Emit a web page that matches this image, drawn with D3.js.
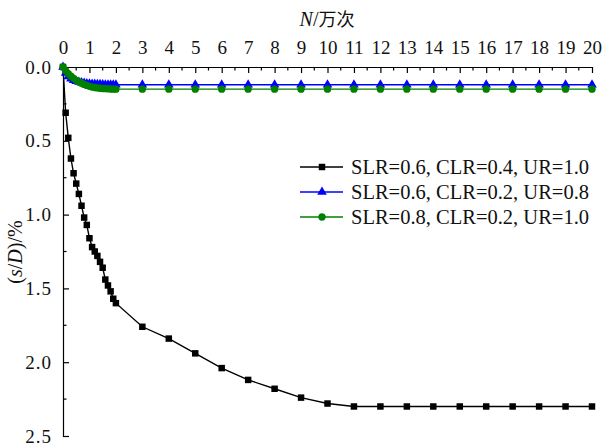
<!DOCTYPE html>
<html>
<head>
<meta charset="utf-8">
<script src="https://cdn.jsdelivr.net/npm/d3@7/dist/d3.min.js"></script>
<style>
  html, body { margin: 0; padding: 0; background: #fff; }
  svg { display: block; }
</style>
</head>
<body>
<svg id="chart" width="604" height="446"></svg>
<script>
// Cycle counts (×10^4): dense sampling up to 2, then one per unit
const cycles = [0, 0.1, 0.2, 0.3, 0.4, 0.5, 0.6, 0.7, 0.8, 0.9, 1.0,
  1.1, 1.2, 1.3, 1.4, 1.5, 1.6, 1.7, 1.8, 1.9, 2.0,
  3, 4, 5, 6, 7, 8, 9, 10, 11, 12, 13, 14, 15, 16, 17, 18, 19, 20];

// Normalised settlement s/D (%)
const settleA = [0, 0.31, 0.48, 0.62, 0.72, 0.79, 0.86, 0.94, 1.02, 1.07, 1.16,
  1.22, 1.25, 1.28, 1.32, 1.36, 1.44, 1.48, 1.52, 1.57, 1.60,
  1.76, 1.84, 1.94, 2.04, 2.12, 2.18, 2.24, 2.28, 2.30, 2.30, 2.30, 2.30, 2.30, 2.30, 2.30, 2.30, 2.30, 2.30];
const settleB = [0, 0.040, 0.065, 0.080, 0.090, 0.097, 0.102, 0.106, 0.109, 0.112, 0.114,
  0.115, 0.116, 0.117, 0.118, 0.119, 0.120, 0.120, 0.120, 0.120, 0.120,
  0.12, 0.12, 0.12, 0.12, 0.12, 0.12, 0.12, 0.12, 0.12, 0.12, 0.12, 0.12, 0.12, 0.12, 0.12, 0.12, 0.12, 0.12];
const settleC = [0, 0.025, 0.045, 0.062, 0.077, 0.090, 0.100, 0.110, 0.118, 0.125, 0.131,
  0.136, 0.139, 0.142, 0.144, 0.146, 0.147, 0.148, 0.149, 0.150, 0.150,
  0.15, 0.15, 0.15, 0.15, 0.15, 0.15, 0.15, 0.15, 0.15, 0.15, 0.15, 0.15, 0.15, 0.15, 0.15, 0.15, 0.15, 0.15];

const seriesNames = ["SLR=0.6, CLR=0.4, UR=1.0", "SLR=0.6, CLR=0.2, UR=0.8", "SLR=0.8, CLR=0.2, UR=1.0"];
const seriesColors = ["#000000", "#0000ff", "#008000"];
const seriesShapes = [d3.symbolSquare, d3.symbolTriangle, d3.symbolCircle];
const xTicks = d3.range(0, 21, 1);
const yTicks = [0, 0.5, 1.0, 1.5, 2.0, 2.5];

const serif = "'Liberation Serif', 'Times New Roman', serif";

const series = [settleA, settleB, settleC].map((vals, i) => ({
  name: seriesNames[i], color: seriesColors[i], shape: seriesShapes[i],
  points: cycles.map((c, j) => ({ x: c, y: vals[j] }))
}));

const svg = d3.select("#chart");
const plotLeft = 63, plotRight = 592, plotTop = 67, plotBottom = 436;
const x = d3.scaleLinear().domain([0, 20]).range([plotLeft, plotRight]);
const y = d3.scaleLinear().domain([0, 2.5]).range([plotTop, plotBottom]);

// Top axis with inward ticks
const xAxis = svg.append("g").attr("transform", `translate(0,${plotTop})`)
  .call(d3.axisTop(x).tickValues(xTicks).tickFormat(d3.format("d"))
    .tickSizeInner(-6).tickSizeOuter(0).tickPadding(13));
xAxis.select(".domain").attr("stroke", "#000").attr("stroke-width", 1.2);
xAxis.selectAll(".tick line").attr("stroke", "#000").attr("stroke-width", 1.2);
xAxis.selectAll(".tick text").style("font-family", serif).style("font-size", "19px").attr("fill", "#111");
svg.append("g").selectAll("line").data(d3.range(0.5, 20, 1)).join("line")
  .attr("x1", d => x(d)).attr("x2", d => x(d))
  .attr("y1", plotTop).attr("y2", plotTop + 3.5)
  .attr("stroke", "#000").attr("stroke-width", 1.2);

// Left axis with inward ticks
const yAxis = svg.append("g").attr("transform", `translate(${plotLeft},0)`)
  .call(d3.axisLeft(y).tickValues(yTicks).tickFormat(d3.format(".1f"))
    .tickSizeInner(-6).tickSizeOuter(0).tickPadding(11));
yAxis.select(".domain").attr("stroke", "#000").attr("stroke-width", 1.2);
yAxis.selectAll(".tick line").attr("stroke", "#000").attr("stroke-width", 1.2);
yAxis.selectAll(".tick text").style("font-family", serif).style("font-size", "19px")
  .style("letter-spacing", "1px").attr("fill", "#111");
svg.append("g").selectAll("line").data([0.25, 0.75, 1.25, 1.75, 2.25]).join("line")
  .attr("x1", plotLeft).attr("x2", plotLeft + 3.5)
  .attr("y1", d => y(d)).attr("y2", d => y(d))
  .attr("stroke", "#000").attr("stroke-width", 1.2);

// Axis titles
const xt = svg.append("text").attr("x", 327).attr("y", 26).attr("text-anchor", "middle")
  .style("font-family", serif).style("font-size", "20px").attr("fill", "#111");
xt.append("tspan").style("font-style", "italic").text("N");
xt.append("tspan").text("/");
xt.append("tspan").style("font-family", "'Noto Sans CJK SC'").style("font-size", "18px").text("万次");

const yt = svg.append("text").attr("transform", "translate(22,252) rotate(-90)")
  .attr("text-anchor", "middle").style("font-family", serif).style("font-size", "20px").attr("fill", "#111");
yt.append("tspan").text("(");
yt.append("tspan").style("font-style", "italic").text("s");
yt.append("tspan").text("/");
yt.append("tspan").style("font-style", "italic").text("D");
yt.append("tspan").text(")/%");

// Series lines and markers
const line = d3.line().x(d => x(d.x)).y(d => y(d.y));
const plot = svg.append("g");
series.forEach(s => {
  plot.append("path").datum(s.points).attr("d", line)
    .attr("fill", "none").attr("stroke", s.color).attr("stroke-width", 1.4);
});
const markerSize = s => (s === d3.symbolTriangle ? 40 : 42);
series.forEach(s => {
  const sym = d3.symbol().type(s.shape).size(markerSize(s.shape));
  plot.append("g").selectAll("path").data(s.points).join("path")
    .attr("transform", d => `translate(${x(d.x)},${y(d.y)})`)
    .attr("d", sym).attr("fill", s.color);
});

// Legend
const legend = svg.append("g");
series.forEach((s, i) => {
  const ly = 167 + i * 25;
  legend.append("line").attr("x1", 300).attr("x2", 343).attr("y1", ly).attr("y2", ly)
    .attr("stroke", s.color).attr("stroke-width", 1.4);
  legend.append("path").attr("transform", `translate(322,${ly})`)
    .attr("d", d3.symbol().type(s.shape).size(markerSize(s.shape))).attr("fill", s.color);
  legend.append("text").attr("x", 351).attr("y", ly + 7)
    .style("font-family", serif).style("font-size", "20.5px").attr("fill", "#111").text(s.name);
});
</script>
</body>
</html>
